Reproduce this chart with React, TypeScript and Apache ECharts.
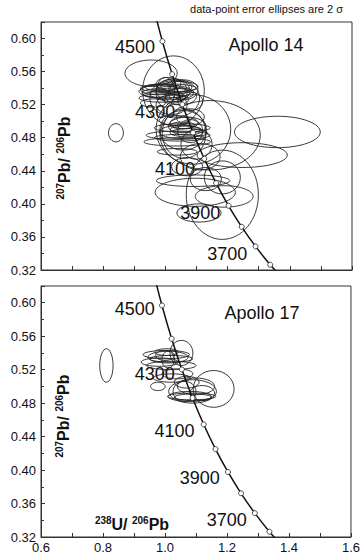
import React, { useEffect, useRef } from "react";
import * as echarts from "echarts";

// Concordia (Tera-Wasserburg) nodes, every 100 Ma
const concAges = [3500, 3600, 3700, 3800, 3900, 4000, 4100, 4200, 4300, 4400, 4500, 4600];
const concX = [1.38686, 1.33697, 1.28991, 1.24534, 1.20311, 1.16305, 1.125, 1.08883, 1.0544, 1.02159, 0.99029, 0.96041];
const concY = [0.30583, 0.32634, 0.34852, 0.37223, 0.39771, 0.4251, 0.45454, 0.4862, 0.52027, 0.55692, 0.59674, 0.63935];

// age labels along the concordia
const ageLabels = ["4500", "4300", "4100", "3900", "3700"];
const ageLabelX = [0.9025, 0.967, 1.031, 1.112, 1.199];
const ageLabelYTop = [0.5895, 0.511, 0.442, 0.389, 0.339];
const ageLabelYBot = [0.592, 0.515, 0.447, 0.39, 0.34];

// ellipses: [x centre, y centre, x half-axis, y half-axis]
const ellipses14 = [
  [0.841, 0.486, 0.024, 0.011],
  [1.36, 0.487, 0.138, 0.019],
  [1.247, 0.459, 0.145, 0.015],
  [0.954, 0.558, 0.084, 0.016],
  [1.026, 0.537, 0.099, 0.042],
  [1.025, 0.537, 0.054, 0.014],
  [1.03, 0.528, 0.08, 0.023],
  [1.0, 0.536, 0.085, 0.008],
  [1.02, 0.533, 0.07, 0.007],
  [0.98, 0.538, 0.06, 0.006],
  [1.03, 0.541, 0.055, 0.008],
  [1.05, 0.53, 0.05, 0.01],
  [0.99, 0.528, 0.075, 0.005],
  [1.01, 0.545, 0.04, 0.008],
  [1.04, 0.536, 0.03, 0.013],
  [0.97, 0.534, 0.045, 0.005],
  [1.06, 0.538, 0.045, 0.012],
  [1.0, 0.535, 0.03, 0.018],
  [1.08, 0.524, 0.04, 0.011],
  [0.96, 0.522, 0.04, 0.005],
  [1.01, 0.54, 0.09, 0.005],
  [0.995, 0.532, 0.065, 0.004],
  [1.015, 0.538, 0.05, 0.004],
  [1.045, 0.542, 0.06, 0.006],
  [0.985, 0.541, 0.05, 0.004],
  [1.035, 0.526, 0.04, 0.006],
  [1.02, 0.52, 0.05, 0.012],
  [1.041, 0.483, 0.103, 0.005],
  [1.038, 0.475, 0.107, 0.005],
  [1.054, 0.492, 0.09, 0.005],
  [1.057, 0.489, 0.075, 0.024],
  [1.038, 0.463, 0.064, 0.004],
  [1.05, 0.487, 0.07, 0.008],
  [1.07, 0.494, 0.06, 0.011],
  [1.06, 0.498, 0.045, 0.007],
  [1.08, 0.488, 0.04, 0.014],
  [1.03, 0.501, 0.05, 0.006],
  [1.06, 0.485, 0.07, 0.03],
  [1.065, 0.49, 0.05, 0.004],
  [1.075, 0.486, 0.06, 0.005],
  [1.055, 0.495, 0.04, 0.004],
  [1.045, 0.48, 0.08, 0.004],
  [1.144, 0.483, 0.161, 0.042],
  [1.09, 0.49, 0.12, 0.042],
  [1.1, 0.472, 0.05, 0.018],
  [1.112, 0.457, 0.064, 0.016],
  [1.08, 0.505, 0.045, 0.01],
  [1.07, 0.445, 0.05, 0.011],
  [1.096, 0.414, 0.129, 0.017],
  [1.108, 0.389, 0.071, 0.011],
  [1.183, 0.411, 0.116, 0.054],
  [1.089, 0.428, 0.118, 0.007],
  [1.189, 0.409, 0.093, 0.013],
  [1.183, 0.432, 0.058, 0.02],
  [1.13, 0.43, 0.05, 0.014],
];

const ellipses17 = [
  [0.811, 0.525, 0.0215, 0.02],
  [1.053, 0.54, 0.037, 0.015],
  [1.157, 0.497, 0.066, 0.022],
  [1.004, 0.538, 0.075, 0.005],
  [1.01, 0.535, 0.065, 0.007],
  [1.005, 0.541, 0.038, 0.004],
  [1.02, 0.533, 0.07, 0.004],
  [0.983, 0.529, 0.06, 0.005],
  [1.02, 0.525, 0.08, 0.005],
  [0.977, 0.5, 0.0235, 0.005],
  [1.022, 0.51, 0.06, 0.005],
  [1.089, 0.494, 0.077, 0.014],
  [1.08, 0.488, 0.07, 0.006],
  [1.063, 0.494, 0.037, 0.012],
  [1.086, 0.488, 0.078, 0.004],
  [1.1, 0.5, 0.06, 0.01],
  [1.01, 0.532, 0.02, 0.01],
  [1.04, 0.515, 0.05, 0.006],
  [1.12, 0.492, 0.04, 0.009],
  [1.07, 0.505, 0.04, 0.007],
  [1.0, 0.537, 0.03, 0.006],
  [1.09, 0.487, 0.06, 0.004],
];

const FONT = "Liberation Sans, Arial, sans-serif";
const INK = "#111";

export default function App() {
  const ref = useRef<HTMLDivElement>(null);
  useEffect(() => {
    if (!ref.current) return;
    const chart = echarts.init(ref.current, undefined, { renderer: "svg" });

    const yAxisBase = (gridIndex: number) => ({
      type: "value",
      gridIndex,
      min: 0.32,
      max: 0.62,
      interval: 0.04,
      axisLine: { show: true, lineStyle: { color: "#333", width: 1 } },
      axisTick: { show: true, inside: true, length: 4, lineStyle: { color: "#333" } },
      minorTick: { show: true, splitNumber: 2, length: 3, lineStyle: { color: "#333" } },
      splitLine: { show: false },
      axisLabel: {
        fontSize: 13,
        color: INK,
        fontFamily: FONT,
        margin: 5,
        formatter: (v: number) => (Math.abs(v * 25 - Math.round(v * 25)) < 1e-6 ? v.toFixed(2) : ""),
      },
    });
    const xAxisBase = (gridIndex: number, showLabel: boolean) => ({
      type: "value",
      gridIndex,
      min: 0.6,
      max: 1.6,
      interval: 0.2,
      axisLine: { show: true, lineStyle: { color: "#333", width: 1 } },
      axisTick: { show: true, inside: true, length: 4, lineStyle: { color: "#333" } },
      minorTick: { show: true, splitNumber: 2, length: 4, lineStyle: { color: "#333" } },
      splitLine: { show: false },
      axisLabel: {
        show: showLabel,
        fontSize: 13,
        color: INK,
        fontFamily: FONT,
        margin: 4,
        formatter: (v: number) => v.toFixed(1),
      },
    });

    const ellipseSeries = (data: number[][], idx: number) => ({
      type: "custom",
      xAxisIndex: idx,
      yAxisIndex: idx,
      data,
      encode: { x: 0, y: 1 },
      renderItem: (_p: any, api: any) => {
        const c = api.coord([api.value(0), api.value(1)]);
        const s = api.size([api.value(2), api.value(3)], [api.value(0), api.value(1)]);
        return {
          type: "ellipse",
          shape: { cx: c[0], cy: c[1], rx: s[0], ry: s[1] },
          style: { fill: "none", stroke: "#222", lineWidth: 0.9 },
        };
      },
      z: 3,
    });

    const concData = concAges.map((a, i) => ({
      value: [concX[i], concY[i]],
      symbol: a >= 3600 && a <= 4500 ? "circle" : "none",
    }));
    const concSeries = (idx: number) => ({
      type: "line",
      xAxisIndex: idx,
      yAxisIndex: idx,
      data: concData,
      smooth: 0.3,
      clip: true,
      symbolSize: 5,
      showAllSymbol: true,
      lineStyle: { color: "#111", width: 1.5 },
      itemStyle: { color: "#fff", borderColor: "#222", borderWidth: 0.8 },
      z: 4,
    });
    const labelSeries = (idx: number, ys: number[]) => ({
      type: "scatter",
      xAxisIndex: idx,
      yAxisIndex: idx,
      symbolSize: 0,
      itemStyle: { opacity: 1 },
      data: ageLabels.map((t, i) => ({ value: [ageLabelX[i], ys[i]], name: t })),
      label: {
        show: true,
        position: "inside",
        formatter: (p: any) => p.name,
        fontSize: 18,
        color: INK,
        opacity: 1,
        fontFamily: FONT,
      },
      z: 2,
    });

    const richName = {
      s: { fontSize: 10, fontWeight: "bold", fontFamily: FONT, fill: INK, verticalAlign: "top", lineHeight: 18 },
      b: { fontSize: 16, fontWeight: "bold", fontFamily: FONT, fill: INK, lineHeight: 18 },
    };
    const yName = (x: number, y: number) => ({
      type: "text",
      x,
      y,
      rotation: Math.PI / 2,
      style: {
        text: "{s|207}{b|Pb/ }{s|206}{b|Pb}",
        align: "center",
        verticalAlign: "middle",
        rich: richName,
      },
    });

    chart.setOption({
      animation: false,
      backgroundColor: "#fff",
      grid: [
        { left: 41, top: 22, width: 311, height: 248, show: true, borderColor: "#333", borderWidth: 1, backgroundColor: "transparent" },
        { left: 41, top: 286, width: 311, height: 251, show: true, borderColor: "#333", borderWidth: 1, backgroundColor: "transparent" },
      ],
      xAxis: [xAxisBase(0, false), xAxisBase(1, true)],
      yAxis: [yAxisBase(0), yAxisBase(1)],
      series: [
        labelSeries(0, ageLabelYTop),
        labelSeries(1, ageLabelYBot),
        ellipseSeries(ellipses14, 0),
        ellipseSeries(ellipses17, 1),
        concSeries(0),
        concSeries(1),
      ],
      graphic: [
        {
          type: "text",
          x: 343,
          y: 9,
          style: { text: "data-point error ellipses are 2 σ", align: "right", verticalAlign: "middle", fontSize: 11, fontFamily: FONT, fill: INK },
        },
        {
          type: "text",
          x: 266,
          y: 45,
          style: { text: "Apollo 14", align: "center", verticalAlign: "middle", fontSize: 18, fontFamily: FONT, fill: INK },
        },
        {
          type: "text",
          x: 262,
          y: 313,
          style: { text: "Apollo 17", align: "center", verticalAlign: "middle", fontSize: 18, fontFamily: FONT, fill: INK },
        },
        yName(64, 158),
        yName(63, 416),
        {
          type: "text",
          x: 132,
          y: 524,
          style: {
            text: "{s|238}{b|U/ }{s|206}{b|Pb}",
            align: "center",
            verticalAlign: "middle",
            rich: richName,
          },
        },
      ],
    });
    return () => chart.dispose();
  }, []);
  return <div ref={ref} style={{ position: "fixed", left: 0, top: 0, width: 363, height: 554 }} />;
}
